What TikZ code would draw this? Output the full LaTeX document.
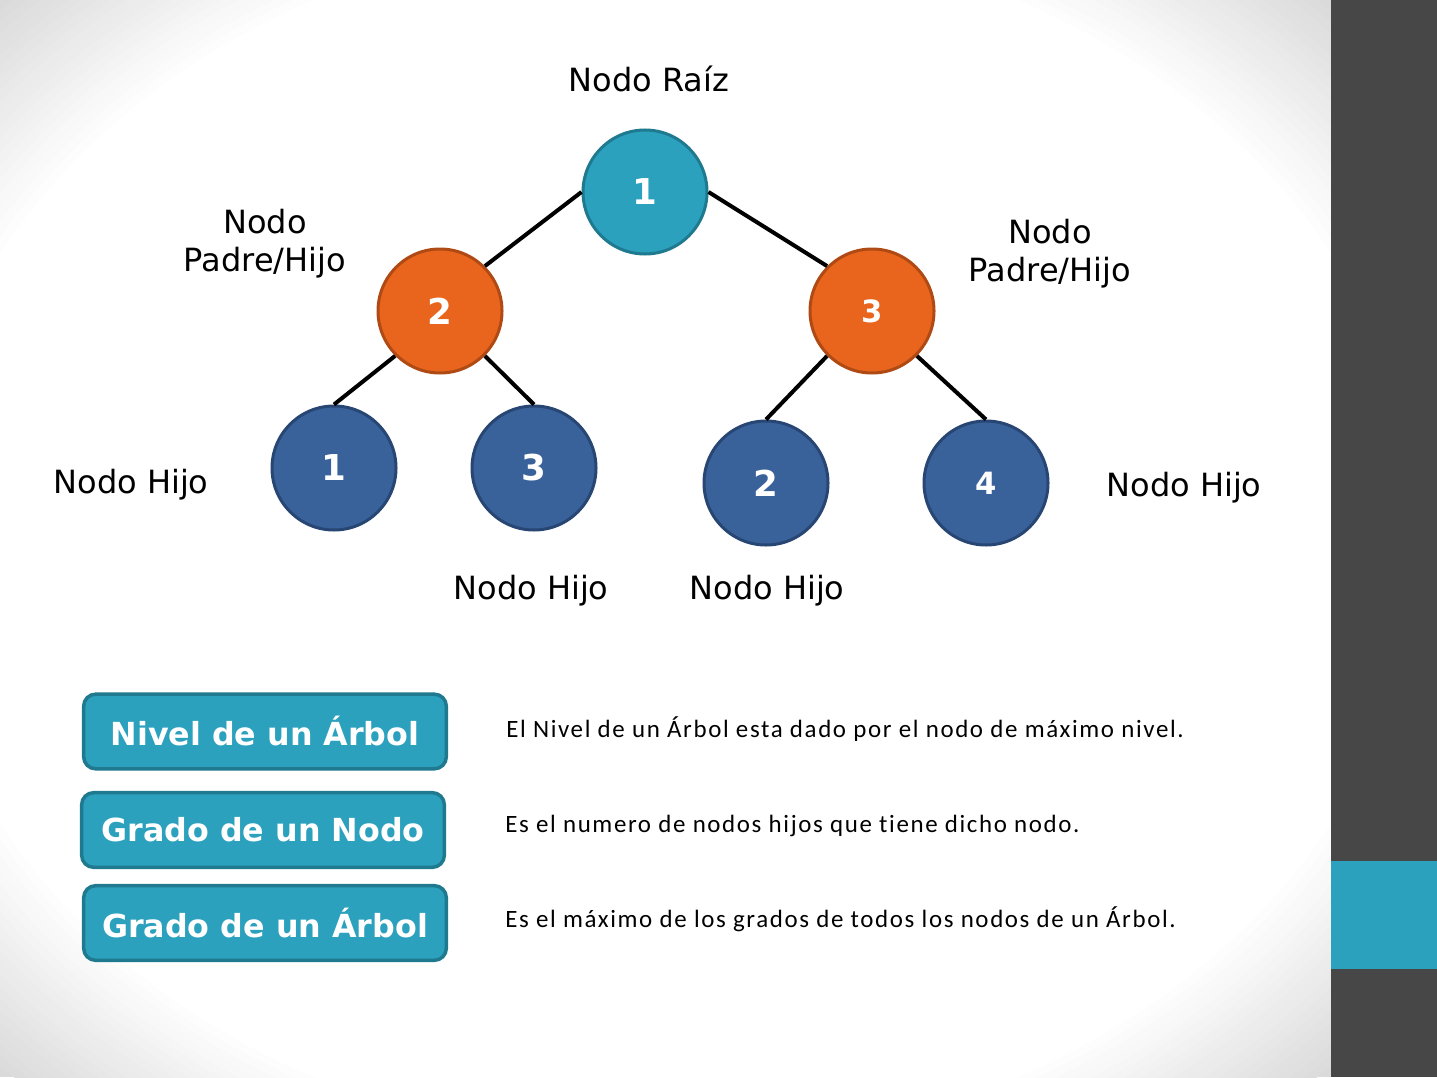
\documentclass[tikz,border=0pt]{standalone}
\usepackage{fontspec}
\setmainfont{DejaVu Sans}
\newfontfamily\calib[LetterSpace=6.5,Ligatures={NoCommon}]{Carlito}
\definecolor{tealF}{RGB}{44,161,190}
\definecolor{tealD}{RGB}{31,121,143}
\definecolor{orgF}{RGB}{233,101,30}
\definecolor{orgD}{RGB}{176,74,20}
\definecolor{bluF}{RGB}{58,98,154}
\definecolor{bluD}{RGB}{40,70,115}
\definecolor{band}{RGB}{71,71,71}
\definecolor{bggray}{RGB}{218,218,218}
\tikzset{
  treenode/.style={circle, minimum size=93pt, inner sep=0pt, line width=2.25pt, text=white, font=\bfseries\fontsize{26.7pt}{30pt}\selectfont},
  smallnum/.style={font=\bfseries\fontsize{23pt}{26pt}\selectfont},
  rootnode/.style={treenode, fill=tealF, draw=tealD},
  parentnode/.style={treenode, fill=orgF, draw=orgD},
  leafnode/.style={treenode, fill=bluF, draw=bluD},
  edge/.style={line width=3pt, black},
  lbl/.style={anchor=base, align=center, inner sep=0pt, font=\fontsize{24pt}{28.5pt}\selectfont},
  termbox/.style={rectangle, rounded corners=9pt, fill=tealF, draw=tealD, line width=2.6pt, minimum width=272pt, minimum height=56pt, inner sep=0pt, text=white, font=\bfseries\fontsize{23.8pt}{26pt}\selectfont},
  desc/.style={anchor=base west, inner sep=0pt, font=\calib\fontsize{18.7pt}{22pt}\selectfont}
}
\begin{document}
\begin{tikzpicture}[x=0.75pt,y=-0.75pt]
\useasboundingbox (0,0) rectangle (1437,1077);
\begin{scope}
\clip (0,0) rectangle (1331,1077);
\fill[bggray] (0,0) rectangle (1331,1077);
\foreach \k in {1,...,21} {
  \pgfmathsetmacro\rr{1-0.01*\k}
  \pgfmathsetmacro\pp{max(0,100-100*\k/20)}
  \fill[bggray!\pp!white] (665.5,538.5) ellipse[x radius=941*\rr, y radius=761.6*\rr];
}
\end{scope}
\fill[band] (1331,0) rectangle (1437,1077);
\fill[tealF] (1331,861) rectangle (1437,969);

% tree nodes
\node[rootnode] (r) at (645,192) {1};
\node[parentnode] (p2) at (440,311) {2};
\node[parentnode, smallnum] (p3) at (872,311) {3};
\node[leafnode] (l1) at (334,468) {1};
\node[leafnode] (l3) at (534,468) {3};
\node[leafnode] (l2) at (766,483) {2};
\node[leafnode, smallnum] (l4) at (986,483) {4};

% connectors
\draw[edge] (r.west) -- (p2.45);
\draw[edge] (r.east) -- (p3.135);
\draw[edge] (p2.225) -- (l1.north);
\draw[edge] (p2.315) -- (l3.north);
\draw[edge] (p3.225) -- (l2.north);
\draw[edge] (p3.315) -- (l4.north);

% labels
\node[lbl] (tRoot) at (649,92) {Nodo Raíz};
\node[lbl] (tPL) at (265,271.5) {Nodo\\Padre/Hijo};
\node[lbl] (tPR) at (1050,281.5) {Nodo\\Padre/Hijo};
\node[lbl] (tH1) at (131,493) {Nodo Hijo};
\node[lbl] (tH4) at (1184,496) {Nodo Hijo};
\node[lbl] (tH3) at (531,599) {Nodo Hijo};
\node[lbl] (tH2) at (767,599) {Nodo Hijo};

% term boxes
\node[termbox] (b1) at (265,731.5) {Nivel de un Árbol};
\node[termbox] (b2) at (263,830) {Grado de un Nodo};
\node[termbox] (b3) at (265,923) {Grado de un Árbol};

% descriptions
\node[desc] (d1) at (506,737) {El Nivel de un Árbol esta dado por el nodo de máximo nivel.};
\node[desc] (d2) at (505,832) {Es el numero de nodos hijos que tiene dicho nodo.};
\node[desc] (d3) at (505,927) {Es el máximo de los grados de todos los nodos de un Árbol.};
\end{tikzpicture}
\end{document}
